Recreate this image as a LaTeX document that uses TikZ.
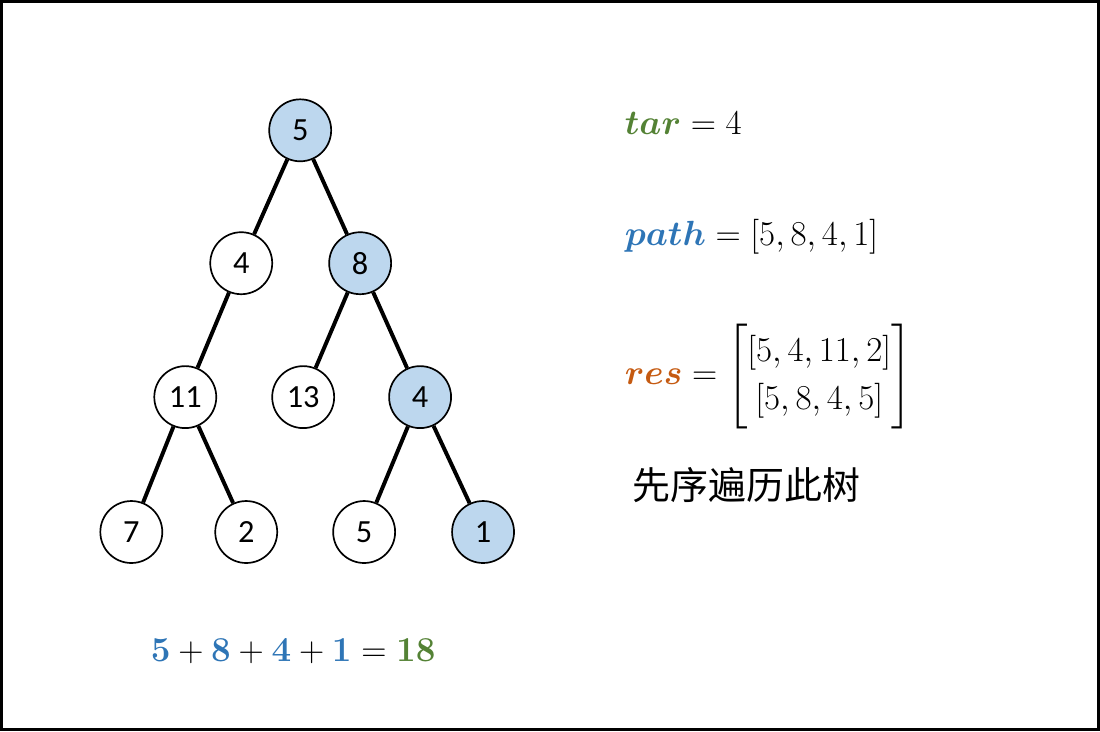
\documentclass[tikz,border=0pt]{standalone}
\usepackage{amsmath}
\usepackage{fontspec}
\setmainfont{Carlito}
\newfontfamily\cjk{Noto Sans CJK SC}
\definecolor{nodeblue}{HTML}{BDD7EE}
\definecolor{mgreen}{HTML}{548235}
\definecolor{mblue}{HTML}{2E75B6}
\definecolor{morange}{HTML}{C55A11}
\begin{document}
\begin{tikzpicture}[x=0.025cm,y=-0.025cm,
  tn/.style={circle,draw,line width=1.2pt,minimum size=1.55cm,inner sep=0pt,font=\fontsize{23}{27}\selectfont},
  hl/.style={tn,fill=nodeblue},
  edge/.style={line width=2.8pt},
  eq/.style={anchor=west,font=\fontsize{30}{34}\selectfont}]
\draw[line width=2pt] (1,1) rectangle (1099,730);
\useasboundingbox (0,0) rectangle (1100,731);
\node[hl] (a) at (300,130) {5};
\node[tn] (b) at (241,263) {4};
\node[hl] (c) at (360,263) {8};
\node[tn] (d) at (185,397) {11};
\node[tn] (e) at (303,397) {13};
\node[hl] (f) at (420,397) {4};
\node[tn] (g) at (131,532) {7};
\node[tn] (h) at (246,532) {2};
\node[tn] (i) at (364,532) {5};
\node[hl] (j) at (483,532) {1};
\draw[edge] (a)--(b) (a)--(c) (b)--(d) (c)--(e) (c)--(f) (d)--(g) (d)--(h) (f)--(i) (f)--(j);
\node[eq] (t1) at (620,123) {$\boldsymbol{\color{mgreen}tar} = 4$};
\node[eq] (t2) at (620,237) {$\boldsymbol{\color{mblue}path} = [5,8,4,1]$};
\node[eq] (t3) at (620,376) {$\boldsymbol{\color{morange}res} = \begin{bmatrix}[5,4,11,2]\\ [5,8,4,5]\end{bmatrix}$};
\node[anchor=west,font=\cjk\fontsize{27}{31}\selectfont] (t4) at (628,485) {先序遍历此树};
\node[font=\fontsize{29}{33}\selectfont] (t5) at (293,651) {$\boldsymbol{\color{mblue}5} + \boldsymbol{\color{mblue}8} + \boldsymbol{\color{mblue}4} + \boldsymbol{\color{mblue}1} = \boldsymbol{\color{mgreen}18}$};
\end{tikzpicture}
\end{document}
